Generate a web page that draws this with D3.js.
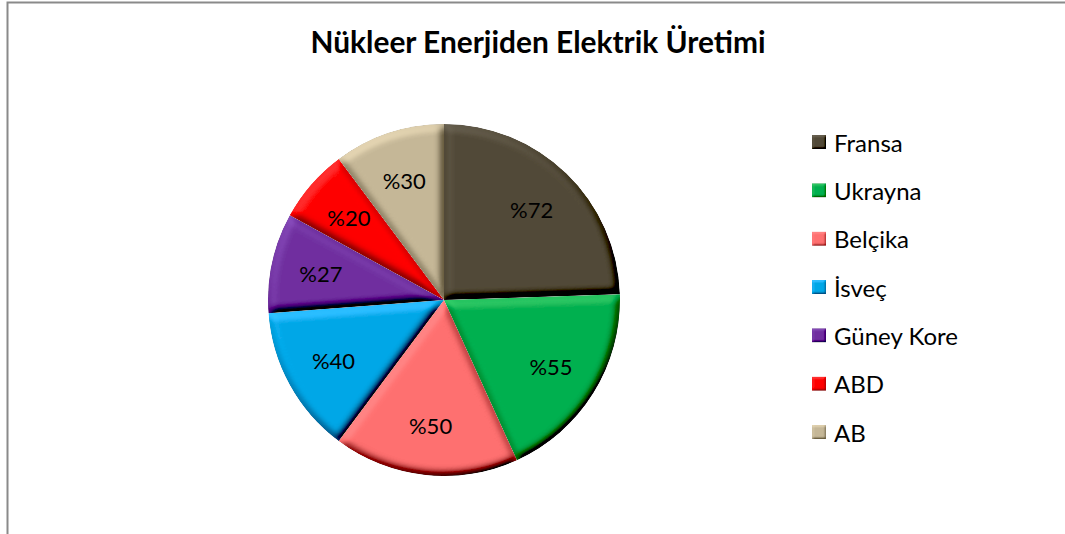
<!DOCTYPE html>
<html><head><meta charset="utf-8">
<script src="https://cdn.jsdelivr.net/npm/d3@7"></script>
<style>html,body{margin:0;padding:0;background:#fff;overflow:hidden}</style>
</head><body>
<svg id="chart" width="1065" height="534"></svg>
<script>
const title = "Nükleer Enerjiden Elektrik Üretimi";
const categories = ["Fransa","Ukrayna","Belçika","İsveç","Güney Kore","ABD","AB"];
const values = [72,55,50,40,27,20,30];
const colors = ["#524A38","#00B050","#FF7070","#00A8E8","#7030A0","#FF0000","#C6B898"];

const svg = d3.select("#chart");
const W = 1065, H = 534;
const cx = 444, cy = 300, R = 176;

// defs: bevel filter
const defs = svg.append("defs");
function bevel(id, blur, scale, k1, k3) {
  const f = defs.append("filter").attr("id", id)
    .attr("x","-20%").attr("y","-20%").attr("width","140%").attr("height","140%");
  f.append("feGaussianBlur").attr("in","SourceAlpha").attr("stdDeviation",blur).attr("result","blur");
  const l = f.append("feDiffuseLighting").attr("in","blur").attr("surfaceScale",scale)
    .attr("diffuseConstant",1).attr("lighting-color","#fff").attr("result","light");
  l.append("feDistantLight").attr("azimuth",240).attr("elevation",50);
  f.append("feComposite").attr("in","SourceGraphic").attr("in2","light")
    .attr("operator","arithmetic").attr("k1",k1).attr("k2",0).attr("k3",k3).attr("k4",-k3*0.77).attr("result","lit");
  f.append("feComposite").attr("in","lit").attr("in2","SourceAlpha").attr("operator","in");
}
bevel("bevel", 4.5, 6, 1.3, 0.12);
bevel("bevelSmall", 1.2, 1.2, 1.3, 0.15);

// border
svg.append("rect").attr("x",7.5).attr("y",2.5).attr("width",W+20).attr("height",H+20)
  .attr("fill","#fff").attr("stroke","#8a8a8a").attr("stroke-width",2);

function fitSize(text, family, weight, target, start) {
  const t = svg.append("text").attr("font-family",family).attr("font-weight",weight)
    .attr("font-size",start).text(text);
  const w = t.node().getComputedTextLength();
  t.remove();
  return start * target / w;
}
const FONT = "Lato, 'Open Sans', sans-serif";

// title
const tSize = fitSize(title, FONT, "bold", 455, 24);
svg.append("text").attr("x",538).attr("y",53).attr("text-anchor","middle")
  .attr("font-family",FONT).attr("font-weight","bold").attr("font-size",tSize)
  .attr("fill","#000").text(title);

// pie
const pie = d3.pie().sort(null).value(d=>d).startAngle(0).endAngle(2*Math.PI);
const arcs = pie(values);
const arc = d3.arc().innerRadius(0).outerRadius(R);
const labelArc = d3.arc().innerRadius(126).outerRadius(126);
const g = svg.append("g").attr("transform",`translate(${cx},${cy})`);
g.selectAll("path.slice").data(arcs).join("path").attr("class","slice")
  .attr("d",arc).attr("fill",(d,i)=>colors[i]).attr("filter","url(#bevel)");

const lSize = 22;
g.selectAll("text.lbl").data(arcs).join("text").attr("class","lbl")
  .attr("transform",d=>`translate(${labelArc.centroid(d)})`)
  .attr("text-anchor","middle").attr("dominant-baseline","central")
  .attr("font-family",FONT).attr("font-size",lSize).attr("fill","#000")
  .text(d=>"%"+d.data);

// legend
const legSize = fitSize("Güney Kore", FONT, "normal", 124, 22);
const ly = d3.scalePoint().domain(categories).range([142,432]);
const leg = svg.append("g");
categories.forEach((c,i)=>{
  const y = ly(c);
  leg.append("rect").attr("x",812).attr("y",y-7).attr("width",14).attr("height",14)
    .attr("fill",colors[i]).attr("filter","url(#bevelSmall)");
  leg.append("text").attr("x",834).attr("y",y).attr("dominant-baseline","central")
    .attr("font-family",FONT).attr("font-size",legSize).attr("fill","#000").text(c);
});
</script>
</body></html>
